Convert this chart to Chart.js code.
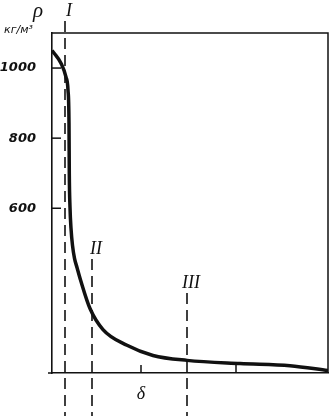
<!DOCTYPE html>
<html>
<head>
<meta charset="utf-8">
<script src="https://cdn.jsdelivr.net/npm/chart.js@4"></script>
<style>
  html, body { margin: 0; padding: 0; background: #fff; }
  #wrap { width: 331px; height: 416px; position: relative; }
</style>
</head>
<body>
<div id="wrap"><canvas id="c" width="331" height="416"></canvas></div>
<script>
// density curve, x in arbitrary units along δ
const curveX = [0, 2, 9, 14, 16, 17, 17.3, 18, 19, 20.5, 22.5, 25, 29, 38, 51, 75, 101, 135, 188, 238, 276];
const curveY = [1050, 1043, 1014, 974, 937, 843, 700, 603, 543, 494, 457, 431, 391, 314, 254, 209, 180, 166, 157, 151, 137];
const yTicks = [600, 800, 1000];
const zoneX = [13, 40, 135];
const zoneLabels = ['I', 'II', 'III'];
const zoneTop = [21, 259, 293];
const baseTicks = [89, 184];

const ink = '#111';

const framePlugin = {
  id: 'frame',
  beforeDatasetsDraw(chart) {
    const { ctx, chartArea: a, scales: { x, y } } = chart;
    ctx.save();
    ctx.strokeStyle = ink;
    // zone lines
    ctx.lineWidth = 1.6;
    ctx.setLineDash([11, 6]);
    zoneX.forEach((v, i) => {
      const px = x.getPixelForValue(v);
      ctx.beginPath();
      ctx.moveTo(px, zoneTop[i]);
      ctx.lineTo(px, 416);
      ctx.stroke();
    });
    ctx.setLineDash([]);
    // frame top and right
    ctx.lineWidth = 1.5;
    ctx.beginPath();
    ctx.moveTo(a.left, a.top);
    ctx.lineTo(a.right, a.top);
    ctx.lineTo(a.right, a.bottom);
    ctx.stroke();
    // inward y ticks
    yTicks.forEach(v => {
      const py = y.getPixelForValue(v);
      ctx.beginPath();
      ctx.moveTo(a.left, py);
      ctx.lineTo(a.left + 9, py);
      ctx.stroke();
    });
    // small ticks on base line
    baseTicks.forEach(v => {
      const px = x.getPixelForValue(v);
      ctx.beginPath();
      ctx.moveTo(px, a.bottom);
      ctx.lineTo(px, a.bottom - 8);
      ctx.stroke();
    });
    ctx.beginPath();
    ctx.moveTo(a.left - 4, a.bottom);
    ctx.lineTo(a.left, a.bottom);
    ctx.stroke();
    ctx.restore();
  },
  afterDraw(chart) {
    const { ctx, scales: { x } } = chart;
    ctx.save();
    ctx.fillStyle = ink;
    ctx.textAlign = 'center';
    ctx.textBaseline = 'alphabetic';
    ctx.font = 'italic 18px "Liberation Serif"';
    zoneLabels.forEach((t, i) => {
      const px = x.getPixelForValue(zoneX[i]);
      ctx.fillText(t, px + 4, zoneTop[i] - 5);
    });
    ctx.font = 'italic 18px "Liberation Serif"';
    ctx.fillText('δ', 141, 399);
    ctx.font = 'italic 21px "Liberation Serif"';
    ctx.fillText('ρ', 38, 17);
    ctx.font = 'italic 11px "DejaVu Sans"';
    ctx.textAlign = 'left';
    ctx.fillText('кг/м³', 4, 33);
    ctx.restore();
  }
};

new Chart(document.getElementById('c'), {
  type: 'scatter',
  data: {
    datasets: [{
      data: curveX.map((v, i) => ({ x: v, y: curveY[i] })),
      showLine: true,
      borderColor: ink,
      borderWidth: 3.5,
      pointRadius: 0,
      cubicInterpolationMode: 'monotone',
      fill: false
    }]
  },
  options: {
    responsive: false,
    animation: false,
    layout: { padding: { top: 33, right: 3, left: 0, bottom: 0 } },
    plugins: { legend: { display: false }, tooltip: { enabled: false } },
    scales: {
      x: {
        type: 'linear',
        min: 0,
        max: 276,
        grid: { display: false },
        border: { display: true, color: ink, width: 1.6 },
        ticks: { display: false },
        afterFit(s) { s.height = 43; }
      },
      y: {
        min: 130,
        max: 1100,
        grid: { display: false },
        border: { display: true, color: ink, width: 1.6 },
        afterBuildTicks(s) { s.ticks = yTicks.map(v => ({ value: v })); },
        ticks: {
          color: ink,
          padding: 8,
          callback: v => String(v),
          font: { family: 'DejaVu Sans', size: 13, style: 'italic', weight: 'bold' }
        },
        afterFit(s) { s.width = 52; }
      }
    }
  },
  plugins: [framePlugin]
});
</script>
</body>
</html>
